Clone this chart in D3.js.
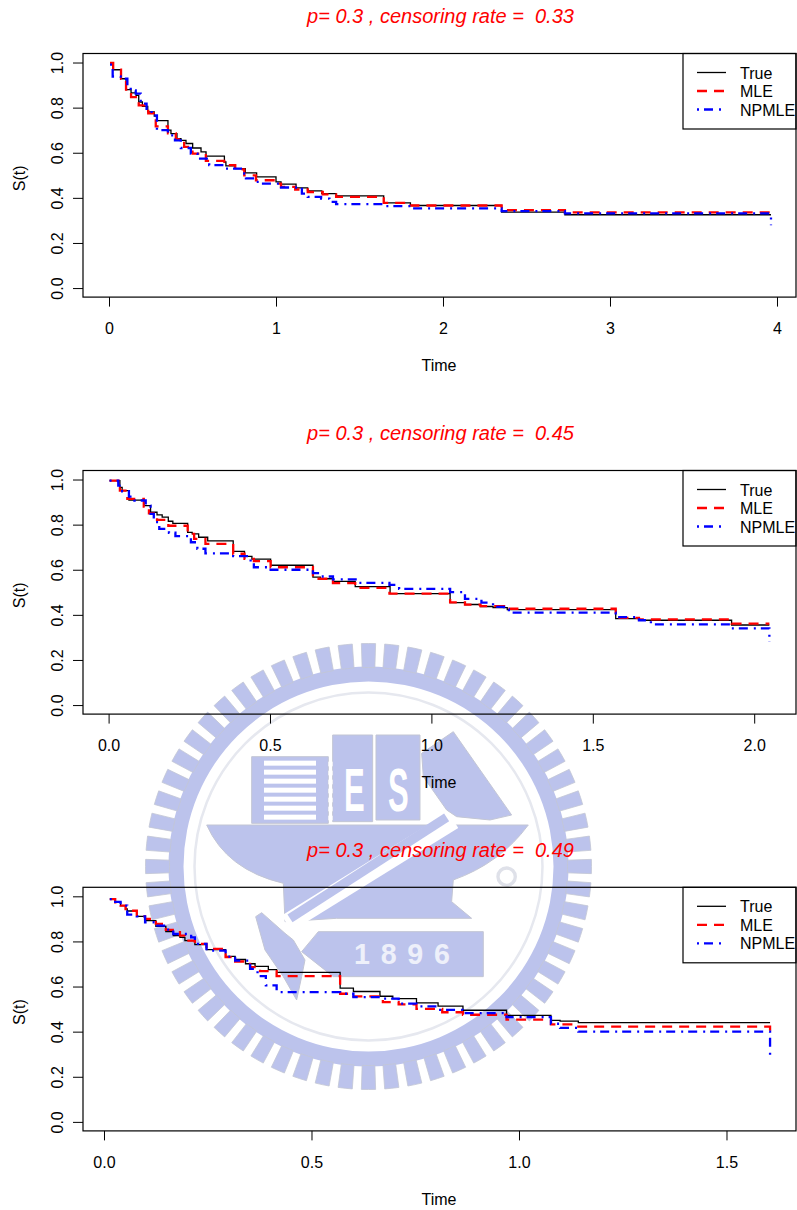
<!DOCTYPE html>
<meta charset="utf-8">
<title>Survival curves</title>
<style>
  html, body { margin: 0; background: #fff; }
  svg { display: block; }
  text { font-family: "Liberation Sans", Arial, sans-serif; fill: #000; }
</style>
<body>
<script src="https://d3js.org/d3.v7.min.js"></script>
<script>

const titles = ["p= 0.3 , censoring rate =  0.33", "p= 0.3 , censoring rate =  0.45", "p= 0.3 , censoring rate =  0.49"];
const seriesNames = ["True", "MLE", "NPMLE"];
const seriesColors = ["#000", "#f00", "#00f"];
const seriesWidths = [1.3, 2.3, 2.3];
const seriesDash = ["none", "10,7", "2,5,9,6"];
const yTicks = [0, 0.2, 0.4, 0.6, 0.8, 1];
const xTicks = [[0, 1, 2, 3, 4], [0, 0.5, 1, 1.5, 2], [0, 0.5, 1, 1.5]];

// panel 1
const p1TrueT = [.006,.022,.072,.102,.132,.162,.178,.2,.232,.271,.287,.353,.371,.407,.431,.461,.501,.551,.581,.691,.70,.756,.816,.884,1.0,1.03,1.12,1.19,1.274,1.36,1.645,1.805,2.351,2.73,3.964];
const p1TrueS = [.998,.968,.928,.880,.865,.854,.825,.806,.781,.763,.742,.700,.685,.663,.655,.641,.621,.604,.585,.559,.542,.530,.511,.493,.471,.461,.444,.431,.419,.409,.378,.366,.337,.325,.325];
const p1MleT = [.006,.025,.072,.102,.132,.178,.235,.28,.353,.40,.45,.50,.58,.69,.756,.81,.88,1.0,1.03,1.115,1.19,1.28,1.36,1.645,1.805,2.351,2.73,3.964];
const p1MleS = [.998,.968,.928,.880,.847,.810,.775,.717,.686,.660,.626,.596,.564,.545,.526,.500,.478,.463,.449,.437,.426,.415,.404,.378,.366,.346,.336,.336];
const p1NpT = [.006,.022,.07,.11,.13,.16,.19,.225,.255,.287,.353,.395,.43,.49,.53,.60,.69,.81,.82,.88,.91,1.03,1.155,1.19,1.27,1.32,1.36,1.645,1.805,2.351,2.73,3.964,3.964];
const p1NpS = [.991,.938,.928,.891,.876,.862,.818,.788,.766,.700,.677,.655,.621,.596,.574,.545,.530,.508,.486,.471,.463,.446,.419,.404,.397,.382,.372,.363,.353,.341,.331,.331,.279];

// panel 2
const p2TrueT = [.003,.035,.042,.063,.109,.13,.15,.166,.185,.199,.245,.259,.279,.307,.386,.421,.444,.502,.633,.656,.695,.764,.872,1.058,1.104,1.152,1.191,1.235,1.571,1.643,1.93,2.047];
const p2TrueS = [.995,.965,.951,.909,.884,.855,.843,.833,.815,.806,.766,.759,.744,.728,.681,.659,.647,.620,.567,.560,.548,.525,.494,.454,.446,.437,.432,.423,.383,.376,.355,.355];
const p2MleT = [.003,.035,.058,.109,.125,.15,.185,.245,.265,.30,.386,.421,.45,.502,.633,.695,.764,.87,1.058,1.104,1.152,1.225,1.571,1.643,1.93,2.047];
const p2MleS = [.995,.951,.914,.880,.850,.821,.795,.759,.737,.715,.671,.648,.638,.611,.560,.541,.520,.494,.455,.445,.439,.427,.387,.380,.361,.361];
const p2NpT = [.003,.03,.042,.063,.08,.115,.13,.14,.157,.187,.207,.255,.275,.30,.386,.44,.45,.502,.633,.66,.695,.77,.87,.90,1.058,1.104,1.155,1.191,1.225,1.24,1.571,1.643,1.68,1.93,2.047,2.047];
const p2NpS = [.995,.973,.948,.924,.907,.884,.848,.811,.781,.764,.749,.722,.693,.673,.660,.634,.611,.600,.585,.570,.557,.542,.533,.515,.501,.471,.454,.435,.424,.410,.390,.376,.358,.340,.340,.280];

// panel 3
const p3TrueT = [.014,.027,.04,.052,.056,.079,.099,.125,.149,.167,.183,.195,.219,.247,.293,.316,.341,.364,.396,.416,.569,.601,.665,.696,.753,.805,.865,.97,1.077,1.099,1.143,1.605];
const p3TrueS = [.988,.973,.959,.944,.935,.911,.892,.867,.844,.826,.818,.804,.786,.764,.734,.720,.701,.689,.675,.663,.593,.578,.557,.546,.528,.513,.495,.472,.450,.447,.440,.440];
const p3MleT = [.014,.027,.04,.052,.079,.099,.125,.149,.183,.195,.219,.247,.293,.316,.352,.376,.416,.569,.601,.672,.71,.753,.815,.865,.97,1.077,1.143,1.605,1.605];
const p3MleS = [.988,.973,.959,.936,.911,.900,.878,.851,.826,.804,.789,.767,.730,.711,.686,.668,.646,.568,.556,.531,.521,.501,.486,.475,.453,.432,.422,.422,.394];
const p3NpT = [.014,.027,.04,.056,.079,.099,.125,.149,.167,.21,.219,.247,.293,.316,.352,.37,.39,.416,.569,.601,.665,.71,.753,.805,.865,.97,1.077,1.099,1.143,1.605,1.605];
const p3NpS = [.988,.975,.959,.919,.911,.885,.870,.852,.833,.818,.789,.759,.733,.715,.678,.646,.605,.575,.568,.553,.546,.524,.512,.497,.482,.464,.435,.417,.400,.400,.294];

const panelSeries = [
  [[p1TrueT, p1TrueS], [p1MleT, p1MleS], [p1NpT, p1NpS]],
  [[p2TrueT, p2TrueS], [p2MleT, p2MleS], [p2NpT, p2NpS]],
  [[p3TrueT, p3TrueS], [p3MleT, p3MleS], [p3NpT, p3NpS]],
];
const xDomains = [[-.1557, 4.1138], [-.0793, 2.1295], [-.0506, 1.6675]];
const panelTops = [53.5, 470.5, 887.3];

const width = 797, height = 1210;
const svg = d3.select("body").append("svg").attr("width", width).attr("height", height);

// university emblem watermark, sits behind the charts
const wmBlue = "#bcc3ec", wmEdge = "#c3c6d4";
const mark = svg.append("g");
const gear = mark.append("g").attr("transform", "translate(368.5,866.5)");
const arc = d3.arc();
gear.append("path").attr("fill", wmBlue)
  .attr("d", arc({ innerRadius: 185, outerRadius: 200, startAngle: 0, endAngle: 2 * Math.PI }));
d3.range(60).forEach(i => {
  const a = i * 2 * Math.PI / 60;
  gear.append("path").attr("fill", wmBlue).attr("stroke", wmEdge).attr("stroke-width", .8)
    .attr("d", arc({ innerRadius: 199, outerRadius: 223, startAngle: a - .032, endAngle: a + .032 }));
});
gear.append("circle").attr("r", 174).attr("fill", "none").attr("stroke", "#e6e8ef").attr("stroke-width", 2.5);

const crest = mark.append("g").attr("transform", "translate(190,720) scale(0.3333)");
const shapes = [
  "M185 110H415V310H185Z",
  "M428 45H548V305H428Z",
  "M558 45H690V300H558Z",
  "M790 35L965 285L900 300L800 290L770 270L700 170L695 100Z",
  "M50 315H1015Q930 430 790 480L785 545L845 595H440L285 605L280 490Q110 450 50 315Z",
  "M197 590L215 578L285 640L310 660L345 720L335 770L320 840L280 770L225 690Z",
  "M385 635H880V770H430L335 695Z",
];
crest.selectAll("path.shape").data(shapes).enter().append("path")
  .attr("class", "shape").attr("d", d => d).attr("fill", wmBlue).attr("stroke", wmEdge).attr("stroke-width", 3);
crest.selectAll("rect.stripe").data(d3.range(7)).enter().append("rect")
  .attr("class", "stripe").attr("x", 222).attr("width", 156).attr("y", d => 122 + d * 27).attr("height", 15).attr("fill", "#fff");
crest.selectAll("rect.dot").data(d3.range(7)).enter().append("rect")
  .attr("class", "dot").attr("x", 415).attr("width", 13).attr("y", d => 125 + d * 27).attr("height", 14).attr("fill", "#fff");
crest.append("path").attr("d", "M790 300L290 610").attr("stroke", "#fff").attr("stroke-width", 56).attr("fill", "none");
crest.append("path").attr("d", "M770 292L300 595").attr("stroke", wmBlue).attr("stroke-width", 28).attr("fill", "none");
crest.append("circle").attr("cx", 950).attr("cy", 470).attr("r", 26).attr("fill", "none").attr("stroke", "#dfe1e9").attr("stroke-width", 10);
[["E", 493, 274], ["S", 625, 274]].forEach(l => {
  crest.append("text").text(l[0]).attr("text-anchor", "middle")
    .attr("transform", `translate(${l[1]},${l[2]}) scale(0.5,1)`)
    .style("font-size", "186px").style("font-weight", "bold").style("fill", "#fff");
});
crest.append("text").text("1896").attr("x", 652).attr("y", 731).attr("text-anchor", "middle")
  .style("font-size", "86px").style("font-weight", "bold").style("letter-spacing", "32px").style("fill", "#eef0fa");

// charts
const left = 83, right = 796, boxH = 243.6;

panelTops.forEach((top, p) => {
  const g = svg.append("g").attr("transform", `translate(0,${top})`);
  const x = d3.scaleLinear().domain(xDomains[p]).range([left, right]);
  const y = d3.scaleLinear().domain([-.04, 1.04]).range([boxH, 0]);

  g.append("text").text(titles[p])
    .attr("x", 440.5).attr("y", -30.2).attr("text-anchor", "middle")
    .style("white-space", "pre").style("font-size", "20px").style("font-style", "italic").style("fill", "#f00");

  const line = d3.line().curve(d3.curveStepAfter).x(d => x(d[0])).y(d => y(d[1]));
  panelSeries[p].forEach((s, i) => {
    g.append("path").datum(d3.zip(s[0], s[1])).attr("d", line)
      .attr("fill", "none").attr("stroke", seriesColors[i])
      .attr("stroke-width", seriesWidths[i]).attr("stroke-dasharray", seriesDash[i]);
  });

  const xAxis = g.append("g").attr("transform", `translate(0,${boxH})`)
    .call(d3.axisBottom(x).tickValues(xTicks[p]).tickSize(9.5).tickPadding(16)
      .tickFormat(d => p === 0 ? d3.format("d")(d) : d3.format(".1f")(d)));
  const yAxis = g.append("g").attr("transform", `translate(${left},0)`)
    .call(d3.axisLeft(y).tickValues(yTicks).tickSize(10).tickFormat(d3.format(".1f")));
  [xAxis, yAxis].forEach(a => {
    a.select(".domain").remove();
    a.selectAll("line").attr("stroke", "#000").attr("stroke-width", 1);
    a.selectAll("text").style("font-family", '"Liberation Sans", Arial, sans-serif').style("font-size", "16px").attr("fill", "#000");
  });
  yAxis.selectAll("text").attr("x", 0).attr("dy", 0).attr("text-anchor", "middle")
    .attr("transform", "translate(-20.5,0) rotate(-90)");

  g.append("rect").attr("x", left).attr("y", 0).attr("width", right - left).attr("height", boxH)
    .attr("fill", "none").attr("stroke", "#000").attr("stroke-width", 1.2);

  g.append("text").text("Time").attr("x", 439).attr("y", 317.6).attr("text-anchor", "middle").style("font-size", "16px");
  g.append("text").text("S(t)").attr("text-anchor", "middle").style("font-size", "16px")
    .attr("transform", `translate(25,${boxH / 2 + 3}) rotate(-90)`);

  // legend
  const leg = g.append("g").attr("transform", "translate(683,0)");
  leg.append("rect").attr("width", 113).attr("height", 75.5).attr("fill", "none").attr("stroke", "#000").attr("stroke-width", 1.2);
  seriesNames.forEach((name, i) => {
    const ly = 19 + i * 18.5;
    leg.append("line").attr("x1", 14).attr("x2", 43).attr("y1", ly).attr("y2", ly)
      .attr("stroke", seriesColors[i]).attr("stroke-width", seriesWidths[i]).attr("stroke-dasharray", seriesDash[i]);
    leg.append("text").text(name).attr("x", 57).attr("y", ly + 6).style("font-size", "16px");
  });
});

</script>
</body>
